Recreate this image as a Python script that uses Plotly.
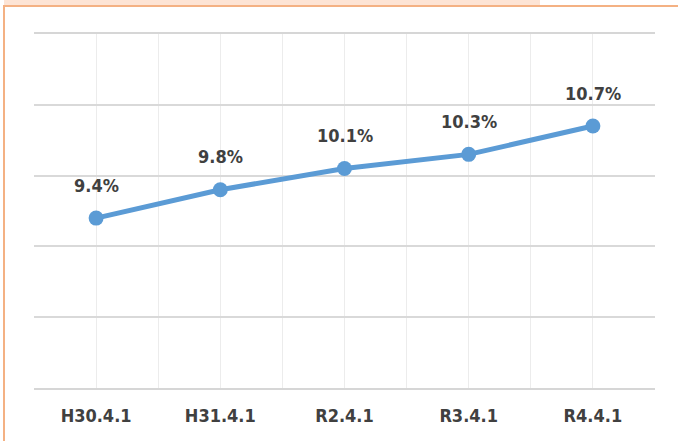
"""Line chart of the yearly ratio (H30 - R4)"""

import plotly.graph_objects as go

################################################################################
# Data

dates = ["H30.4.1", "H31.4.1", "R2.4.1", "R3.4.1", "R4.4.1"]
ratios = [9.4, 9.8, 10.1, 10.3, 10.7]

################################################################################
# Layout helpers

W, H = 678, 441
L, R, T, B = 34, 23, 34, 53
PW, PH = W - L - R, H - T - B


def px_x(x):
    """pixel x -> paper x"""
    return (x - L) / PW


def px_y(y):
    """pixel y (from top) -> paper y"""
    return (H - B - y) / PH


FONT = "DejaVu Sans Condensed, Liberation Sans Narrow, sans-serif"

################################################################################
# Figure

xs = list(range(len(dates)))
fig = go.Figure()
fig.add_trace(go.Scatter(
    x=xs, y=ratios, mode="lines+markers",
    line=dict(color="#5b9bd5", width=5),
    marker=dict(color="#5b9bd5", size=15),
    hoverinfo="skip", showlegend=False))

for x, v in zip(xs, ratios):
    fig.add_annotation(x=x, y=v, text=f"<b>{v:.1f}%</b>", showarrow=False,
                       yshift=33, font=dict(family=FONT, size=18, color="#404040"))

shapes = [
    # peach band on top
    dict(type="rect", xref="paper", yref="paper", x0=px_x(4), x1=px_x(540),
         y0=px_y(0), y1=px_y(5), fillcolor="#fde4d5", line_width=0, layer="below"),
    # orange top line
    dict(type="line", xref="paper", yref="paper", x0=px_x(3), x1=px_x(W),
         y0=px_y(6), y1=px_y(6), line=dict(color="#f4b183", width=2)),
    # orange left line
    dict(type="line", xref="paper", yref="paper", x0=px_x(4), x1=px_x(4),
         y0=px_y(5), y1=px_y(H), line=dict(color="#f4b183", width=2)),
]

fig.update_layout(
    width=W, height=H,
    margin=dict(l=L, r=R, t=T, b=B),
    paper_bgcolor="white", plot_bgcolor="white",
    shapes=shapes,
    xaxis=dict(
        range=[-0.5, len(dates) - 0.5],
        tickmode="array", tickvals=xs, ticktext=[f"<b>{d}</b>" for d in dates],
        tickfont=dict(family=FONT, size=18, color="#404040"),
        showgrid=True, gridcolor="#ececec", gridwidth=1,
        minor=dict(tickmode="array",
                   tickvals=[i - 0.5 for i in range(len(dates) + 1)],
                   showgrid=True, gridcolor="#ececec", gridwidth=1),
        showline=True, mirror=True, linecolor="#d6d6d6", linewidth=2,
        ticks="", ticklabelstandoff=10, zeroline=False, fixedrange=True),
    yaxis=dict(
        range=[7, 12], dtick=1, showticklabels=False,
        showgrid=True, gridcolor="#d9d9d9", gridwidth=2,
        zeroline=False, ticks="", fixedrange=True),
)

# the page's default body margin would shift the figure by 8px
fig.write_html("out.html", config={"displayModeBar": False},
               post_script="document.body.style.margin='0';")
